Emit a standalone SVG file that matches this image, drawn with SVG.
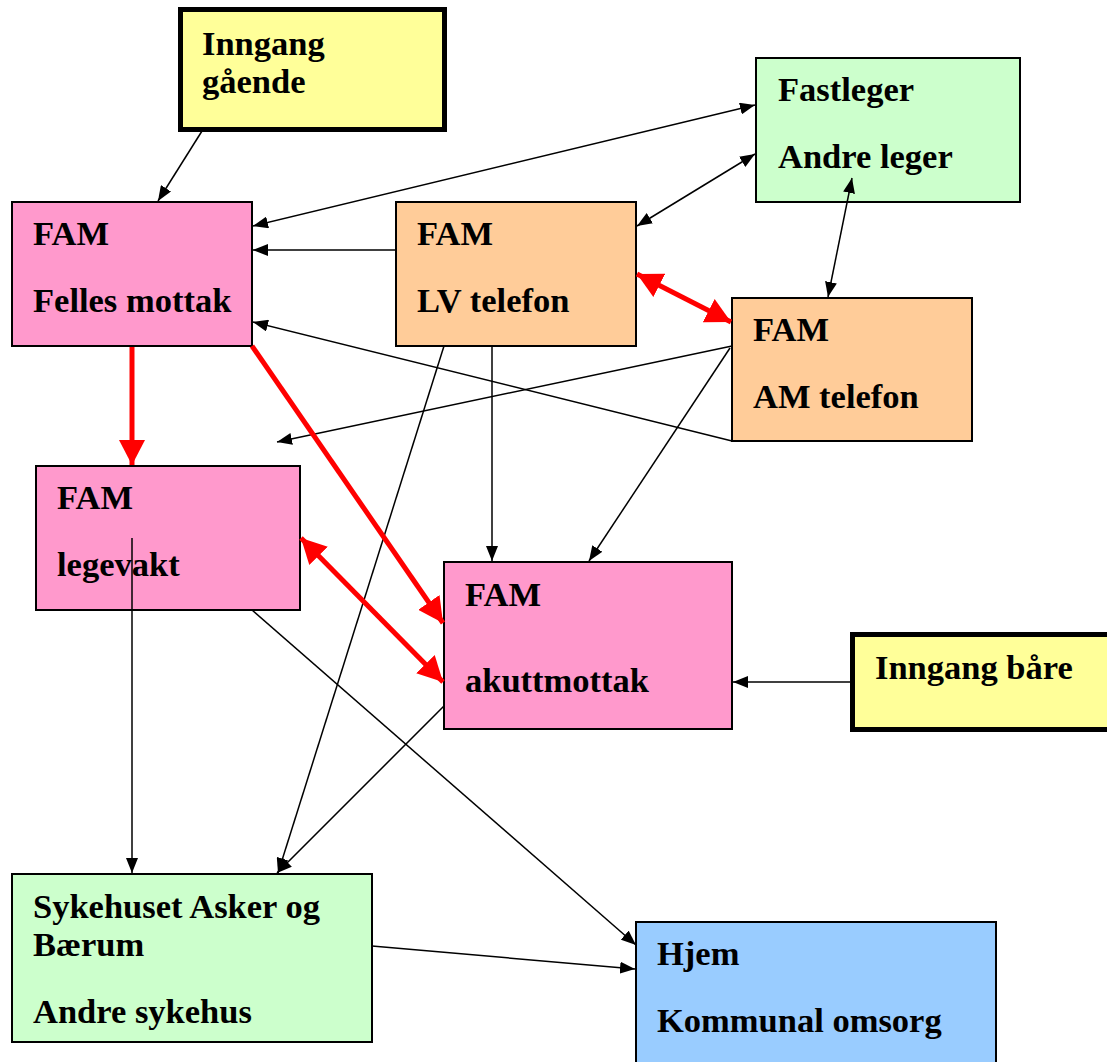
<svg xmlns="http://www.w3.org/2000/svg" width="1107" height="1062" viewBox="0 0 1107 1062">
<style>
.t{font-family:"Liberation Serif","Times New Roman",serif;font-weight:bold;font-size:34.5px;fill:#000}
.b{stroke:#000;stroke-width:2}
.thick{stroke:#000;stroke-width:5}
.c{stroke:#000;stroke-width:1.5;fill:none}
.r{stroke:#FF0000;stroke-width:5;fill:none}
</style>
<defs>
<marker id="ah" viewBox="0 0 15 12" markerWidth="15" markerHeight="12" refX="15" refY="6" orient="auto-start-reverse" markerUnits="userSpaceOnUse"><path d="M0,0 L15,6 L0,12 z" fill="#000"/></marker>
<marker id="rh" viewBox="0 0 25 26" markerWidth="25" markerHeight="26" refX="25" refY="13" orient="auto-start-reverse" markerUnits="userSpaceOnUse"><path d="M0,0 L25,13 L0,26 z" fill="#FF0000"/></marker>
</defs>
<rect width="1107" height="1062" fill="#fff"/>
<g id="n-inngang-gaende"><rect x="180.5" y="9.5" width="264" height="120" fill="#FFFF99" class="thick"/><text class="t" x="202" y="55">Inngang</text><text class="t" x="202" y="93">gående</text></g>
<g id="n-fastleger"><rect x="756" y="58" width="264" height="144" fill="#CCFFCC" class="b"/><text class="t" x="778" y="101">Fastleger</text><text class="t" x="778" y="168">Andre leger</text></g>
<g id="n-felles"><rect x="12" y="202" width="240" height="144" fill="#FF99CC" class="b"/><text class="t" x="33" y="245">FAM</text><text class="t" x="33" y="312">Felles mottak</text></g>
<g id="n-lv"><rect x="396" y="202" width="240" height="144" fill="#FFCC99" class="b"/><text class="t" x="417" y="245">FAM</text><text class="t" x="417" y="312">LV telefon</text></g>
<g id="n-am"><rect x="732" y="298" width="240" height="143" fill="#FFCC99" class="b"/><text class="t" x="753" y="341">FAM</text><text class="t" x="753" y="408">AM telefon</text></g>
<g id="n-legevakt"><rect x="36" y="466" width="264" height="144" fill="#FF99CC" class="b"/><text class="t" x="57" y="509">FAM</text><text class="t" x="57" y="576">legevakt</text></g>
<g id="n-akutt"><rect x="444" y="562" width="288" height="167" fill="#FF99CC" class="b"/><text class="t" x="465" y="606">FAM</text><text class="t" x="465" y="692">akuttmottak</text></g>
<g id="n-inngang-baare"><rect x="852.5" y="634.5" width="262" height="95" fill="#FFFF99" class="thick"/><text class="t" x="875" y="679">Inngang båre</text></g>
<g id="n-sykehus"><rect x="12" y="874" width="360" height="168" fill="#CCFFCC" class="b"/><text class="t" x="33" y="918">Sykehuset Asker og</text><text class="t" x="33" y="956">Bærum</text><text class="t" x="33" y="1023">Andre sykehus</text></g>
<g id="n-hjem"><rect x="636" y="922" width="360" height="150" fill="#99CCFF" class="b"/><text class="t" x="657" y="965">Hjem</text><text class="t" x="657" y="1032">Kommunal omsorg</text></g>
<g id="connectors">
<line class="c" x1="202" y1="131" x2="158" y2="201" marker-end="url(#ah)"/>
<line class="c" x1="253" y1="226" x2="755" y2="105" marker-start="url(#ah)" marker-end="url(#ah)"/>
<line class="c" x1="396" y1="250" x2="253" y2="250" marker-end="url(#ah)"/>
<line class="c" x1="637" y1="226" x2="755" y2="154" marker-start="url(#ah)" marker-end="url(#ah)"/>
<line class="c" x1="852" y1="178" x2="828" y2="297" marker-start="url(#ah)" marker-end="url(#ah)"/>
<line class="c" x1="732" y1="441" x2="253" y2="322" marker-end="url(#ah)"/>
<line class="c" x1="732" y1="346" x2="277" y2="442" marker-end="url(#ah)"/>
<line class="c" x1="492" y1="346" x2="492" y2="561" marker-end="url(#ah)"/>
<line class="c" x1="730" y1="348" x2="589" y2="561" marker-end="url(#ah)"/>
<line class="c" x1="444" y1="346" x2="278" y2="873" marker-end="url(#ah)"/>
<line class="c" x1="132" y1="538" x2="132" y2="873" marker-end="url(#ah)"/>
<line class="c" x1="252" y1="610" x2="636" y2="945" marker-end="url(#ah)"/>
<line class="c" x1="444" y1="706" x2="277" y2="873" marker-end="url(#ah)"/>
<line class="c" x1="852" y1="682" x2="733" y2="682" marker-end="url(#ah)"/>
<line class="c" x1="372" y1="946" x2="635" y2="969" marker-end="url(#ah)"/>
<line class="r" x1="637" y1="274" x2="731" y2="322" marker-start="url(#rh)" marker-end="url(#rh)"/>
<line class="r" x1="132" y1="347" x2="132" y2="465" marker-end="url(#rh)"/>
<line class="r" x1="252" y1="346" x2="443" y2="623" marker-end="url(#rh)"/>
<line class="r" x1="301" y1="538" x2="443" y2="682" marker-start="url(#rh)" marker-end="url(#rh)"/>
</g>
</svg>
